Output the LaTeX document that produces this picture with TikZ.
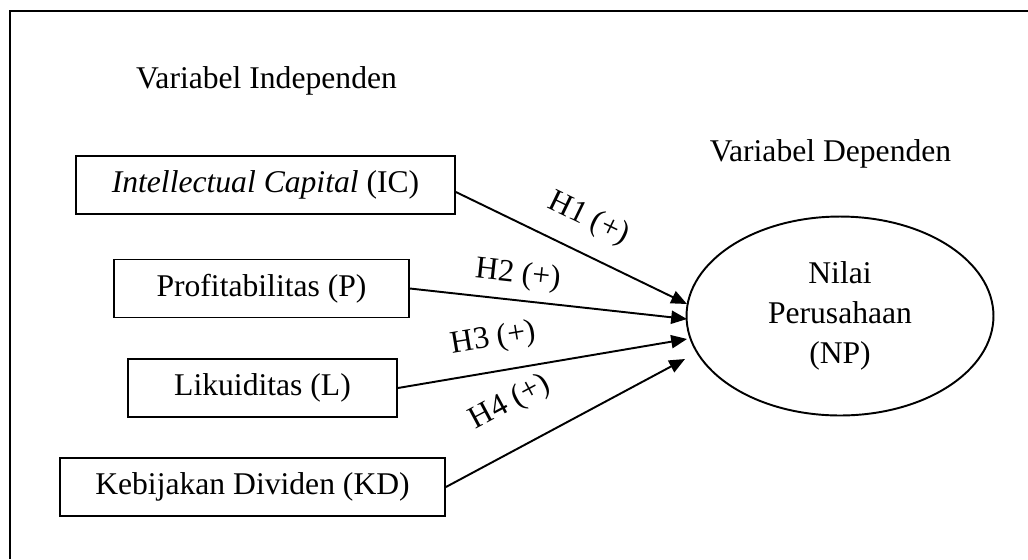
\documentclass[tikz,border=0pt]{standalone}
\usepackage{fontspec}
\setmainfont{Liberation Serif}
\usetikzlibrary{shapes.geometric,arrows.meta}

\begin{document}
\begin{tikzpicture}[x=0.02cm,y=-0.02cm,
  every node/.style={font=\fontsize{18}{22.7}\selectfont},
  varbox/.style={draw, line width=1.1pt, minimum height=1.16cm, inner sep=0pt},
  hyp/.style={-{Triangle[length=9pt,width=7.5pt]}, line width=1.1pt},
  hlabel/.style={sloped, inner sep=0pt}]
  \useasboundingbox (0,0) rectangle (1028,559);
  \draw[line width=1.1pt] (10,559)--(10,11)--(1028,11);
  \node[anchor=base] (indep) at (266.5,88) {Variabel Independen};
  \node[anchor=base] (dep) at (830.5,161) {Variabel Dependen};
  \node[varbox, minimum width=7.58cm] (IC) at (265.5,185) {\textit{Intellectual Capital} (IC)};
  \node[varbox, minimum width=5.9cm] (P) at (261.5,288.5) {Profitabilitas (P)};
  \node[varbox, minimum width=5.38cm] (L) at (262.5,388) {Likuiditas (L)};
  \node[varbox, minimum width=7.7cm] (KD) at (252.5,487) {Kebijakan Dividen (KD)};
  \node[draw, ellipse, line width=1.1pt, minimum width=6.14cm, minimum height=3.98cm,
    align=center, inner sep=0pt] (NP) at (840,316) {Nilai\\Perusahaan\\(NP)};
  \coordinate (t1) at (687,304);
  \coordinate (t2) at (687,319);
  \coordinate (t3) at (687,339);
  \coordinate (t4) at (685,359);
  \draw[hyp] ([yshift=-4pt]IC.east) -- node[hlabel, pos=0.51, above=10.4pt] {H1 (+)} (t1);
  \draw[hyp] (P.east) -- node[hlabel, pos=0.38, above=5.6pt] {H2 (+)} (t2);
  \draw[hyp] (L.east) -- node[hlabel, pos=0.35, above=9.6pt] {H3 (+)} (t3);
  \draw[hyp] (KD.east) -- node[hlabel, pos=0.355, above=16.3pt] {H4 (+)} (t4);
\end{tikzpicture}
\end{document}
